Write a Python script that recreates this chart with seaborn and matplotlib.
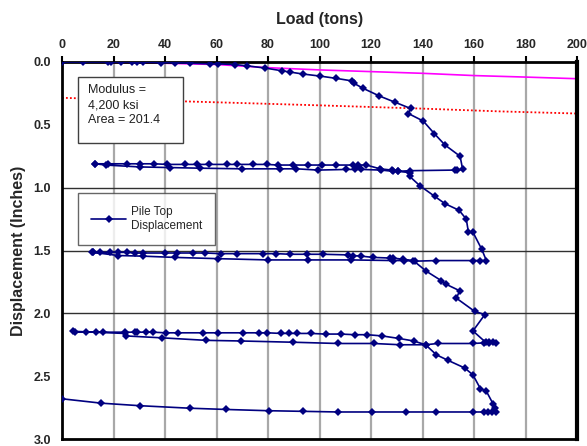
import matplotlib
matplotlib.use("Agg")
import matplotlib.pyplot as plt
import seaborn as sns
import pandas as pd
from matplotlib.patches import Rectangle

# Load test data (tons, inches), in test order
load_c1 = [0, 8, 18, 19, 23, 27, 29, 31.5, 38.4, 44, 49.7, 57.5, 60.6, 67, 71.7, 78.8, 85.3, 88.5,
           93.7, 100.2, 106.4, 112.5, 113.4, 117, 123.2, 129.3, 135.4, 134.5, 140.3, 144.6, 148.7,
           154.6, 155.6]
disp_c1 = [0, 0, 0, 0, 0, 0, 0, 0, 0.005, 0.005, 0.01, 0.015, 0.015, 0.02, 0.03, 0.048, 0.07, 0.08,
           0.096, 0.112, 0.13, 0.15, 0.17, 0.21, 0.27, 0.32, 0.37, 0.41, 0.47, 0.57, 0.66,
           0.75, 0.855]
load_u1 = [153.5, 152.5, 135, 130.5, 128.6, 124, 116.3, 113.7, 110.4, 99.4, 91, 84.5, 70, 53.6,
           42, 30.2, 17, 13]
disp_u1 = [0.86, 0.86, 0.865, 0.87, 0.87, 0.86, 0.855, 0.855, 0.855, 0.86, 0.85, 0.85, 0.85, 0.845,
           0.84, 0.835, 0.82, 0.81]
load_r1 = [13, 18, 25.1, 30.3, 35.7, 40.9, 47.8, 52.3, 57.1, 64, 67.8, 74.3, 79.5, 84, 89.8, 95.6,
           100.8, 106.4, 113.1, 115.1, 118.2, 123.5, 128, 130.5, 135, 135]
disp_r1 = [0.81, 0.81, 0.81, 0.81, 0.81, 0.815, 0.815, 0.815, 0.815, 0.815, 0.815, 0.815, 0.815,
           0.82, 0.82, 0.82, 0.82, 0.82, 0.82, 0.82, 0.82, 0.85, 0.86, 0.87, 0.88, 0.91]

load_c2 = [139, 144.8, 148.7, 154.2, 157, 157.8, 159.6, 163, 164.8]
disp_c2 = [0.985, 1.07, 1.127, 1.18, 1.25, 1.35, 1.355, 1.49, 1.58]
load_u2 = [162.4, 159.6, 145.4, 137, 133, 128.6, 112.4, 95.6, 80, 60.7, 43.8, 31.5, 21.9, 12]
disp_u2 = [1.58, 1.58, 1.58, 1.585, 1.58, 1.58, 1.575, 1.575, 1.575, 1.565, 1.555, 1.545, 1.54, 1.515]
load_r2 = [11.5, 12.2, 14.8, 18.6, 21.9, 25.1, 28.3, 31.5, 39.9, 44.5, 50.9, 55.5, 61.9, 67.8, 78.1,
           83.3, 88.5, 95, 101.4, 111.1, 113.1, 116.3, 120.8, 127.3, 128.6, 132.5, 136.4]
disp_r2 = [1.515, 1.515, 1.515, 1.515, 1.515, 1.515, 1.52, 1.52, 1.52, 1.52, 1.52, 1.52, 1.525,
           1.525, 1.525, 1.525, 1.53, 1.53, 1.53, 1.535, 1.54, 1.545, 1.555, 1.56, 1.56, 1.57, 1.58]

load_c3 = [141.5, 147.3, 149.3, 154.4, 153.2, 160.3, 164.2, 159.6, 164.5, 166, 167.5, 168.7]
disp_c3 = [1.665, 1.74, 1.77, 1.82, 1.88, 1.985, 2.01, 2.14, 2.23, 2.23, 2.23, 2.235]
load_u3 = [166, 164, 159.6, 145.9, 141.2, 131.3, 121, 107.2, 89.8, 69.4, 56, 38.8, 25, 24.3, 4.4]
disp_u3 = [2.235, 2.235, 2.24, 2.24, 2.25, 2.25, 2.24, 2.24, 2.23, 2.22, 2.215, 2.195, 2.18, 2.16,
           2.143]
load_r3 = [5, 9.4, 13.1, 16.1, 24.3, 28.5, 29, 32.5, 35.2, 40.2, 45.1, 54.9, 60.5, 70.2, 76.4, 79.8,
           85.1, 88.1, 91.1, 96.6, 102.4, 108.2, 113.7, 118.5, 124.4, 130.9, 136.6, 141.2]
disp_r3 = [2.15, 2.15, 2.15, 2.15, 2.15, 2.15, 2.15, 2.15, 2.15, 2.155, 2.155, 2.155, 2.155, 2.155,
           2.155, 2.155, 2.16, 2.16, 2.16, 2.16, 2.165, 2.165, 2.17, 2.17, 2.18, 2.2, 2.22, 2.25]

load_c4 = [145.4, 150, 156.4, 159.6, 162.5, 164.8, 167.4, 168]
disp_c4 = [2.33, 2.375, 2.435, 2.49, 2.6, 2.62, 2.72, 2.75]
load_u4 = [168.7, 167, 165.5, 164, 159.6, 145.2, 133.4, 120.5, 107.3, 93.4, 80.3, 63.8, 49.6, 30.2,
           15.3, 0]
disp_u4 = [2.785, 2.785, 2.785, 2.785, 2.785, 2.785, 2.785, 2.785, 2.785, 2.78, 2.775, 2.765, 2.755,
           2.735, 2.715, 2.68]

# elastic compression line (magenta) and offset line (red dotted)
elastic_load = [0, 40, 60, 80, 100, 140, 160, 180, 200]
elastic_disp = [0, 0.01, 0.02, 0.045, 0.063, 0.09, 0.108, 0.12, 0.133]
offset_load = [0, 47, 69, 100, 140, 170, 200]
offset_disp = [0.285, 0.313, 0.326, 0.345, 0.371, 0.393, 0.41]

pile = pd.DataFrame({
    'load': load_c1 + load_u1 + load_r1 + load_c2 + load_u2 + load_r2
            + load_c3 + load_u3 + load_r3 + load_c4 + load_u4,
    'disp': disp_c1 + disp_u1 + disp_r1 + disp_c2 + disp_u2 + disp_r2
            + disp_c3 + disp_u3 + disp_r3 + disp_c4 + disp_u4,
})

sns.set_theme(style="white")
plt.rcParams['font.family'] = ['Liberation Sans', 'DejaVu Sans']

fig = plt.figure(figsize=(5.87, 4.46), dpi=100)
ax = fig.add_axes([62 / 587, 1 - 439 / 446, 515 / 587, 377 / 446])

# grid: gray verticals, dark horizontals at 1.0 / 1.5 / 2.0
for xv in range(20, 200, 20):
    ax.axvline(xv, color='#a8a8a8', lw=1.6, zorder=0)
for yv in [1.0, 1.5, 2.0]:
    ax.axhline(yv, color='#303030', lw=1.0, zorder=0)

sns.lineplot(x=elastic_load, y=elastic_disp, ax=ax, color='#ff00ff', lw=1.2,
             estimator=None, sort=False, legend=False, zorder=2)
sns.lineplot(x=offset_load, y=offset_disp, ax=ax, color='#ff0000', lw=1.3,
             linestyle=(0, (1, 1.2)), estimator=None, sort=False, legend=False, zorder=2)
sns.lineplot(data=pile, x='load', y='disp', ax=ax, color='#000080', lw=1.2,
             marker='D', markersize=4.5, markeredgewidth=0, estimator=None, sort=False,
             label='Pile Top\nDisplacement', zorder=3)

ax.set_xlim(0, 200)
ax.set_ylim(3.0, 0.0)
ax.set_xticks(range(0, 201, 20))
ax.set_yticks([0.0, 0.5, 1.0, 1.5, 2.0, 2.5, 3.0])
ax.set_yticklabels(['0.0', '0.5', '1.0', '1.5', '2.0', '2.5', '3.0'])
ax.xaxis.tick_top()
ax.xaxis.set_label_position('top')
ax.tick_params(axis='both', direction='out', length=4, width=1.5, color='black',
               labelsize=9, pad=4)
for lab in ax.get_xticklabels() + ax.get_yticklabels():
    lab.set_fontweight('bold')

ax.set_xlabel('Load (tons)', fontsize=11.5, fontweight='bold', labelpad=11)
ax.set_ylabel('Displacement (Inches)', fontsize=11.5, fontweight='bold', labelpad=5)

for side in ['top', 'left', 'bottom']:
    ax.spines[side].set_linewidth(2)
    ax.spines[side].set_color('black')
ax.spines['right'].set_linewidth(3)
ax.spines['right'].set_color('black')

# annotation box
ax.add_patch(Rectangle((16 / 515, 1 - 81 / 377), 105 / 515, 66 / 377, transform=ax.transAxes,
                       facecolor='white', edgecolor='#404040', lw=1.0, zorder=4))
ax.text(26 / 515, 1 - 22 / 377, 'Modulus =\n4,200 ksi\nArea = 201.4', transform=ax.transAxes,
        fontsize=9, va='top', ha='left', linespacing=1.35, color='#202020', zorder=5)

leg = ax.legend(loc='upper left', bbox_to_anchor=(16 / 515, 1 - 131 / 377), frameon=True,
                fancybox=False, fontsize=8.5, handlelength=3.0, borderpad=1.1,
                borderaxespad=0, handletextpad=0.4)
leg.get_frame().set_edgecolor('#404040')
leg.get_frame().set_linewidth(1.0)
leg.set_zorder(4)

plt.savefig('out.png', dpi=100)
plt.close()
